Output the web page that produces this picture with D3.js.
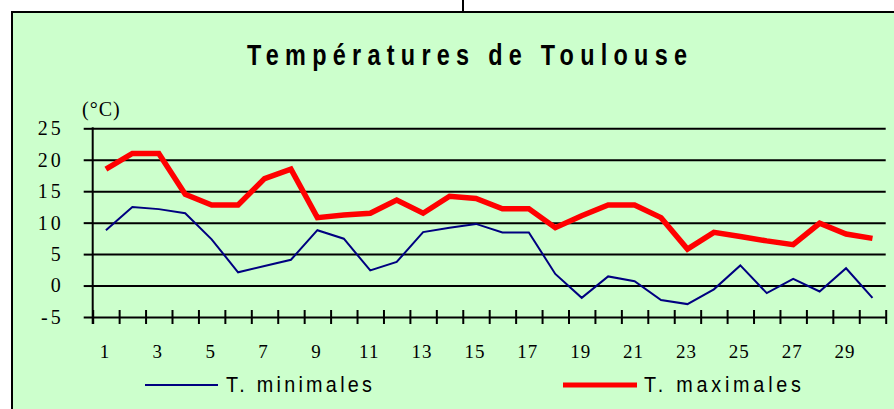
<!DOCTYPE html>
<html>
<head>
<meta charset="utf-8">
<script src="https://cdn.jsdelivr.net/npm/d3@7"></script>
<style>
  html, body { margin: 0; padding: 0; background: #fff; }
</style>
</head>
<body>
<div id="chart"></div>
<script>
    // Data
    days = d3.range(1, 31)
    t_min = [8.8, 12.5, 12.15, 11.5, 7.35, 2.1, 3.1, 4.1, 8.8, 7.45,
             2.4, 3.75, 8.5, 9.2, 9.8, 8.45, 8.45, 1.85, -1.95, 1.45,
             0.7, -2.3, -2.95, -0.6, 3.2, -1.2, 1.05, -0.95, 2.75, -1.95]
    t_max = [18.5, 21.0, 21.0, 14.5, 12.8, 12.8, 17.0, 18.5, 10.8, 11.2,
             11.5, 13.6, 11.5, 14.2, 13.85, 12.2, 12.2, 9.2, 11.1, 12.8,
             12.8, 10.8, 5.8, 8.45, 7.8, 7.1, 6.5, 9.9, 8.2, 7.5]
    y_ticks = [-5, 0, 5, 10, 15, 20, 25]
    x_labels = d3.range(1, 30, 2)

    canvas = ({width: 894, height: 409})
    plot = ({left: 92.7, right: 885.7, top: 128.3, bottom: 317})

    navy = "#000080"
    red = "#ff0000"
    bg = "#ccffcc"
    serif = "'Liberation Serif', 'Times New Roman', serif"
    sans = "'Liberation Sans', Arial, sans-serif"

    var svg = d3.select("#chart").append("svg")
        .attr("width", canvas.width)
        .attr("height", canvas.height)
        .style("display", "block")

    // Frame
    svg.append("rect")
        .attr("x", 12).attr("y", 12)
        .attr("width", canvas.width + 10).attr("height", canvas.height + 10)
        .attr("fill", bg)
        .attr("stroke", "#000")
        .attr("stroke-width", 2)
    svg.append("line")
        .attr("x1", 463).attr("x2", 463)
        .attr("y1", 0).attr("y2", 12)
        .attr("stroke", "#000").attr("stroke-width", 2)

    // Scales
    x = d3.scaleBand()
        .domain(days)
        .range([plot.left, plot.right])
    xb = d3.scaleLinear()
        .domain([0, days.length])
        .range([plot.left, plot.right])
    y = d3.scaleLinear()
        .domain([-5, 25])
        .range([plot.bottom, plot.top])

    // Grid
    svg.append("g")
        .attr("transform", `translate(${plot.left},0)`)
        .call(d3.axisLeft(y).tickValues(y_ticks).tickSize(-(plot.right - plot.left)).tickFormat(""))
        .call(g => g.select(".domain").remove())
        .call(g => g.selectAll(".tick line").attr("stroke", "#000").attr("stroke-width", 2))

    // Y axis
    svg.append("g")
        .attr("transform", `translate(${plot.left},0)`)
        .call(d3.axisLeft(y).tickValues(y_ticks).tickSize(9).tickPadding(20).tickSizeOuter(0)
            .tickFormat(d => d < 0 ? "-" + Math.abs(d) : d))
        .call(g => g.select(".domain").remove())
        .call(g => g.selectAll(".tick line").attr("stroke", "#000").attr("stroke-width", 2))
        .call(g => g.selectAll("text")
            .attr("font-family", serif)
            .attr("font-size", 20)
            .attr("letter-spacing", 3)
            .attr("fill", "#000"))
    svg.append("line")
        .attr("x1", plot.left).attr("x2", plot.left)
        .attr("y1", plot.top - 1).attr("y2", plot.bottom + 7)
        .attr("stroke", "#000").attr("stroke-width", 2)

    // X axis (ticks between categories)
    svg.append("g")
        .attr("transform", `translate(0,${plot.bottom})`)
        .call(d3.axisBottom(xb).tickValues(d3.range(days.length + 1)).tickFormat("").tickSizeOuter(0))
        .call(g => g.select(".domain").remove())
        .call(g => g.selectAll(".tick line")
            .attr("y1", -7).attr("y2", 7)
            .attr("stroke", "#000").attr("stroke-width", 2))

    svg.append("g")
        .selectAll("text")
        .data(x_labels)
        .join("text")
        .attr("x", d => x(d) + x.bandwidth() / 2 - 1)
        .attr("y", 358)
        .attr("text-anchor", "middle")
        .attr("font-family", serif)
        .attr("font-size", 19)
        .attr("letter-spacing", 1)
        .text(d => d)

    // Lines
    line = d3.line()
        .x((d, i) => x(days[i]) + x.bandwidth() / 2)
        .y(d => y(d))

    svg.append("path")
        .attr("fill", "none")
        .attr("stroke", navy)
        .attr("stroke-width", 2)
        .attr("d", line(t_min))

    svg.append("path")
        .attr("fill", "none")
        .attr("stroke", red)
        .attr("stroke-width", 5.5)
        .attr("d", line(t_max))

    // Title (condensed bold sans)
    svg.append("g")
        .attr("transform", "translate(247,65) scale(0.78,1)")
        .append("text")
        .attr("textLength", 440 / 0.78)
        .attr("lengthAdjust", "spacing")
        .attr("font-family", sans)
        .attr("font-weight", "bold")
        .attr("font-size", 30)
        .text("Températures de Toulouse")

    svg.append("text")
        .attr("x", 82).attr("y", 116)
        .attr("font-family", serif)
        .attr("font-size", 20)
        .attr("letter-spacing", 1)
        .text("(°C)")

    // Legend
    legend = [
        {name: "T. minimales", color: navy, width: 2, x0: 145, x1: 218, tx: 226, tl: 146},
        {name: "T. maximales", color: red, width: 5, x0: 563, x1: 637, tx: 644, tl: 157}
    ]
    lg = svg.append("g").selectAll("g").data(legend).join("g")
    lg.append("line")
        .attr("x1", d => d.x0).attr("x2", d => d.x1)
        .attr("y1", 385).attr("y2", 385)
        .attr("stroke", d => d.color)
        .attr("stroke-width", d => d.width)
    lg.append("g")
        .attr("transform", d => `translate(${d.tx},392) scale(0.9,1)`)
        .append("text")
        .attr("textLength", d => d.tl / 0.9)
        .attr("lengthAdjust", "spacing")
        .attr("font-family", sans)
        .attr("font-size", 22)
        .text(d => d.name)
</script>
</body>
</html>
